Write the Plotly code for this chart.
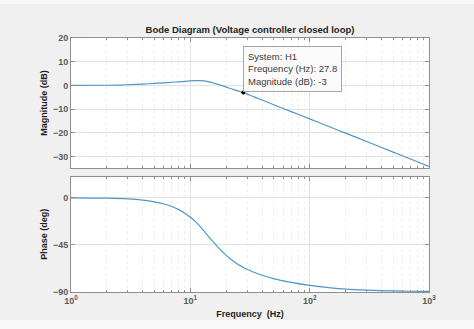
import math
import plotly.graph_objects as go

# Closed-loop voltage controller response, H1
freq_hz = [1, 2, 3, 4, 5, 6, 7, 8, 9, 10, 11, 12, 13, 14, 15, 16, 17, 18,
           20, 22, 25, 27.8, 30, 35, 40, 50, 70, 100, 150, 200, 300, 500,
           700, 1000]
magnitude_db = [0.0, 0.1, 0.3, 0.6, 0.85, 1.1, 1.35, 1.55, 1.75, 1.9, 2.0,
                2.0, 1.9, 1.65, 1.3, 0.9, 0.5, 0.1, -0.7, -1.4, -2.3, -3.0,
                -3.65, -5.0, -6.15, -8.1, -11.0, -14.1, -17.6, -20.1, -23.6,
                -28.1, -31.0, -34.1]
phase_deg = [0.0, -0.3, -1.0, -2.2, -3.8, -5.8, -8.2, -11.2, -14.6, -18.5,
             -22.5, -27.0, -31.5, -36.0, -40.0, -43.5, -47.0, -50.0, -55.0,
             -59.0, -63.5, -66.5, -68.5, -71.6, -74.0, -77.2, -80.8, -83.7,
             -86.0, -87.2, -88.2, -89.0, -89.3, -89.5]

mag_ticks = [20, 10, 0, -10, -20, -30]
phase_ticks = [0, -45, -90]
freq_ticks = [1, 10, 100, 1000]
freq_tick_text = ["10<sup>0</sup>", "10<sup>1</sup>", "10<sup>2</sup>", "10<sup>3</sup>"]

tip_freq = 27.8
tip_mag = -3

FONT = "Liberation Sans, Arial, Helvetica, sans-serif"
LINE = "#5096ca"
AXC = "#8f8f8f"
TICKC = "#5a5a5a"
TITLEC = "#1e1e1e"
GRID = "#e2e2e2"
MINOR = "#eeeeee"

fig = go.Figure()
fig.add_trace(go.Scatter(x=freq_hz, y=magnitude_db, mode="lines",
                         line=dict(color=LINE, width=1.2, shape="spline", smoothing=0.6),
                         xaxis="x2", yaxis="y", hoverinfo="skip"))
fig.add_trace(go.Scatter(x=freq_hz, y=phase_deg, mode="lines",
                         line=dict(color=LINE, width=1.2, shape="spline", smoothing=0.6),
                         xaxis="x", yaxis="y2", hoverinfo="skip"))
fig.add_trace(go.Scatter(x=[tip_freq], y=[tip_mag], mode="markers",
                         marker=dict(color="black", size=4),
                         xaxis="x2", yaxis="y", hoverinfo="skip"))

x_common = dict(type="log", range=[0, 3], domain=[0, 1],
                showline=True, mirror="allticks", linecolor=AXC, linewidth=1,
                ticks="inside", ticklen=4, tickcolor=AXC,
                tickvals=freq_ticks, showgrid=True, gridcolor=GRID, gridwidth=1,
                minor=dict(dtick="D1", ticks="inside", ticklen=2, tickcolor=AXC,
                           showgrid=True, gridcolor=MINOR, griddash="dot"),
                zeroline=False)

y_common = dict(showline=True, mirror="allticks", linecolor=AXC,
                ticks="inside", ticklen=4, tickcolor=AXC,
                showgrid=True, gridcolor=GRID, zeroline=False,
                tickfont=dict(size=9, color=TICKC, weight="bold"))

fig.update_layout(
    width=474, height=329,
    margin=dict(l=71, r=45, t=38, b=37),
    paper_bgcolor="#f0f0f0", plot_bgcolor="white",
    showlegend=False,
    font=dict(family=FONT, size=9, color=TICKC),
    title=dict(text="<b>Bode Diagram (Voltage controller closed loop)</b>",
               x=0.5, xref="paper", y=1.0, yref="paper", yanchor="bottom",
               pad=dict(b=5), font=dict(size=9.5, color=TITLEC)),
    xaxis=dict(x_common, anchor="y2", ticktext=freq_tick_text,
               tickfont=dict(size=9, color=TICKC, weight="bold"),
               title=dict(text="<b>Frequency  (Hz)</b>", standoff=5,
                          font=dict(size=9, color=TITLEC))),
    xaxis2=dict(x_common, anchor="y", matches="x", showticklabels=False),
    yaxis=dict(y_common, domain=[0.488, 1], range=[-34.8, 20], tickvals=mag_ticks,
               title=dict(text="<b>Magnitude (dB)</b>", standoff=3,
                          font=dict(size=9, color=TITLEC))),
    yaxis2=dict(y_common, domain=[0, 0.454], range=[-90, 20.3], tickvals=phase_ticks,
                title=dict(text="<b>Phase (deg)</b>", standoff=3,
                           font=dict(size=9, color=TITLEC))),
    annotations=[dict(
        x=math.log10(tip_freq), y=tip_mag, xref="x2", yref="y", showarrow=False,
        text=f"System: H1<br>Frequency (Hz): {tip_freq}<br>Magnitude (dB): {tip_mag}",
        align="left", xanchor="left", yanchor="bottom", xshift=0, yshift=1,
        bgcolor="rgba(250,250,250,0.95)", bordercolor="#a6a6a6", borderwidth=1,
        borderpad=4, font=dict(size=9.5, color="#3a3a3a", family=FONT))],
    shapes=[
        dict(type="rect", xref="paper", yref="paper", x0=-0.25, x1=1.2,
             y0=1.134, y1=1.2, fillcolor="#f8f8f8", line=dict(width=0), layer="above"),
        dict(type="rect", xref="paper", yref="paper", x0=-0.25, x1=1.2,
             y0=-0.2, y1=-0.110, fillcolor="#f8f8f8", line=dict(width=0), layer="above"),
    ],
)

fig.write_html("out.html")
